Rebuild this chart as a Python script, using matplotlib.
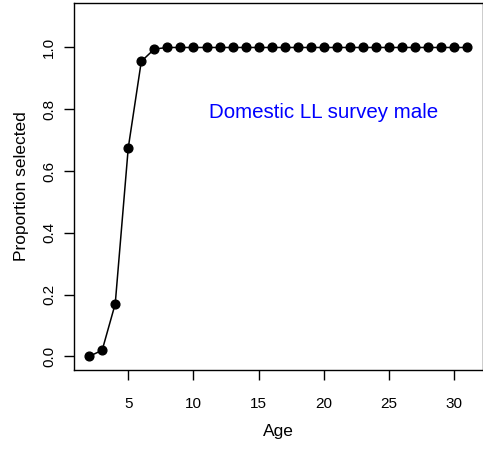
import matplotlib
matplotlib.use("Agg")
import matplotlib.pyplot as plt

plt.rcParams['font.family'] = ['Liberation Sans', 'DejaVu Sans']

ages = list(range(2, 32))
selectivity = [0.0, 0.02, 0.17, 0.675, 0.955, 0.995] + [1.0] * 24
y_ticks = [0.0, 0.2, 0.4, 0.6, 0.8, 1.0]
x_ticks = [5, 10, 15, 20, 25, 30]
label = "Domestic LL survey male"

fig = plt.figure(figsize=(4.83, 4.55), dpi=100)
ax = fig.add_axes([74 / 483, 85 / 455, 408.5 / 483, 367 / 455])

ax.plot(ages, selectivity, color='black', lw=1.1, marker='o', ms=6.3,
        markerfacecolor='black', markeredgecolor='black')

ax.set_xlim(0.84, 32.16)
ax.set_ylim(-0.044, 1.144)
ax.set_xticks(x_ticks)
ax.set_yticks(y_ticks)
ax.set_yticklabels([f"{v:.1f}" for v in y_ticks], rotation=90, va='center')
ax.tick_params(direction='out', length=7, width=1, labelsize=11, colors='black')
ax.tick_params(axis='x', pad=12.5)
ax.tick_params(axis='y', pad=6)

for s in ax.spines.values():
    s.set_linewidth(1.0)

ax.set_xlabel("Age", fontsize=12.5, labelpad=9)
ax.set_ylabel("Proportion selected", fontsize=12.5, labelpad=9)

ax.text(20, 0.79, label, color='#0000ff', fontsize=14.8, ha='center', va='center')

fig.savefig("out.png", dpi=100)
